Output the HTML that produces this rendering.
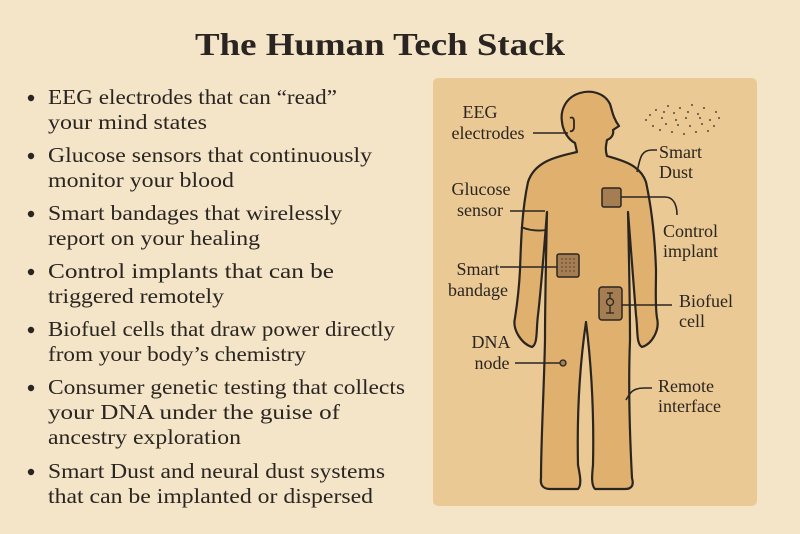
<!DOCTYPE html>
<html><head><meta charset="utf-8"><style>
html,body{margin:0;padding:0;background:#f4e5c9;}
svg{display:block}
text{font-family:"Liberation Serif",serif;fill:#2a2520;}
</style></head><body>
<svg width="800" height="534" viewBox="0 0 800 534" xmlns="http://www.w3.org/2000/svg">
<rect width="800" height="534" fill="#f4e5c9"/>
<text x="380" y="55" text-anchor="middle" font-size="32" font-weight="bold" textLength="370" lengthAdjust="spacingAndGlyphs">The Human Tech Stack</text>
<g font-size="21">
<circle cx="31" cy="98" r="3.2" fill="#2a2520"/>
<text x="48" y="104" textLength="289" lengthAdjust="spacingAndGlyphs">EEG electrodes that can “read”</text>
<text x="48" y="129" textLength="159" lengthAdjust="spacingAndGlyphs">your mind states</text>
<circle cx="31" cy="156" r="3.2" fill="#2a2520"/>
<text x="48" y="162" textLength="324" lengthAdjust="spacingAndGlyphs">Glucose sensors that continuously</text>
<text x="48" y="187" textLength="186" lengthAdjust="spacingAndGlyphs">monitor your blood</text>
<circle cx="31" cy="214" r="3.2" fill="#2a2520"/>
<text x="48" y="220" textLength="294" lengthAdjust="spacingAndGlyphs">Smart bandages that wirelessly</text>
<text x="48" y="245" textLength="212" lengthAdjust="spacingAndGlyphs">report on your healing</text>
<circle cx="31" cy="272" r="3.2" fill="#2a2520"/>
<text x="48" y="278" textLength="286" lengthAdjust="spacingAndGlyphs">Control implants that can be</text>
<text x="48" y="303" textLength="176" lengthAdjust="spacingAndGlyphs">triggered remotely</text>
<circle cx="31" cy="330" r="3.2" fill="#2a2520"/>
<text x="48" y="336" textLength="347" lengthAdjust="spacingAndGlyphs">Biofuel cells that draw power directly</text>
<text x="48" y="361" textLength="258" lengthAdjust="spacingAndGlyphs">from your body’s chemistry</text>
<circle cx="31" cy="388" r="3.2" fill="#2a2520"/>
<text x="48" y="394" textLength="357" lengthAdjust="spacingAndGlyphs">Consumer genetic testing that collects</text>
<text x="48" y="419" textLength="292" lengthAdjust="spacingAndGlyphs">your DNA under the guise of</text>
<text x="48" y="444" textLength="193" lengthAdjust="spacingAndGlyphs">ancestry exploration</text>
<circle cx="31" cy="472" r="3.2" fill="#2a2520"/>
<text x="48" y="478" textLength="337" lengthAdjust="spacingAndGlyphs">Smart Dust and neural dust systems</text>
<text x="48" y="503" textLength="325" lengthAdjust="spacingAndGlyphs">that can be implanted or dispersed</text>
</g>
<rect x="433" y="78" width="324" height="428" rx="5" fill="#ebc994"/>
<path d="M577 152 C560 156 535 160 528 182 C522 210 521 240 520 270 C519 290 517 305 515 318 C512 330 522 344 532 347 C538 344 536 330 538 315 C541 290 544 250 547 212 C546 260 545 300 545 340 C544 390 541 440 541 478 C540 485 543 489 550 489 L578 489 C582 485 580 475 578 465 C577 420 579 370 586 322 C592 370 594 420 593 465 C592 475 591 485 595 489 L625 489 C632 489 634 485 632 478 C630 440 628 390 630 340 C630 300 629 260 628 212 C631 250 634 290 636 315 C638 330 636 344 642 347 C652 344 660 330 657 318 C655 305 656 290 656 270 C655 240 652 210 646 182 C640 164 620 160 607 156 C605 150 606 145 607 140 C612 138 614 134 613 130 L619 126 C613 118 612 110 610 104 C604 92 590 90 580 93 C566 97 560 110 562 122 C563 132 569 140 575 143 Z" fill="#e0b06e" stroke="#2a2520" stroke-width="2.2" stroke-linejoin="round"/>
<path d="M570 118 q4 -2 4 4 l0 6 q-1 4 -4 3" fill="none" stroke="#2a2520" stroke-width="1.8"/>
<path d="M521 227 q12 5 26 3" fill="none" stroke="#2a2520" stroke-width="1.8"/>
<g fill="#2a2520">
<circle cx="650" cy="115" r="0.9"/><circle cx="656" cy="110" r="0.9"/><circle cx="662" cy="118" r="0.9"/><circle cx="668" cy="106" r="0.9"/><circle cx="674" cy="113" r="0.9"/><circle cx="680" cy="108" r="0.9"/><circle cx="686" cy="118" r="0.9"/><circle cx="692" cy="105" r="0.9"/><circle cx="698" cy="114" r="0.9"/><circle cx="704" cy="108" r="0.9"/><circle cx="710" cy="120" r="0.9"/><circle cx="716" cy="112" r="0.9"/><circle cx="653" cy="126" r="0.9"/><circle cx="660" cy="130" r="0.9"/><circle cx="666" cy="124" r="0.9"/><circle cx="672" cy="132" r="0.9"/><circle cx="678" cy="125" r="0.9"/><circle cx="684" cy="134" r="0.9"/><circle cx="690" cy="126" r="0.9"/><circle cx="696" cy="132" r="0.9"/><circle cx="702" cy="124" r="0.9"/><circle cx="708" cy="131" r="0.9"/><circle cx="714" cy="126" r="0.9"/><circle cx="719" cy="118" r="0.9"/><circle cx="664" cy="112" r="0.9"/><circle cx="688" cy="112" r="0.9"/><circle cx="700" cy="118" r="0.9"/><circle cx="676" cy="120" r="0.9"/><circle cx="646" cy="120" r="0.9"/>
</g>
<rect x="602" y="188" width="19" height="19" rx="2" fill="#a57d52" stroke="#2a2520" stroke-width="1.5"/>
<rect x="557" y="254" width="22" height="23" rx="2" fill="#a57d52" stroke="#2a2520" stroke-width="1.5"/>
<g fill="#4a3a28"><circle cx="562" cy="259" r="0.7"/><circle cx="566" cy="259" r="0.7"/><circle cx="570" cy="259" r="0.7"/><circle cx="574" cy="259" r="0.7"/><circle cx="562" cy="263" r="0.7"/><circle cx="566" cy="263" r="0.7"/><circle cx="570" cy="263" r="0.7"/><circle cx="574" cy="263" r="0.7"/><circle cx="562" cy="267" r="0.7"/><circle cx="566" cy="267" r="0.7"/><circle cx="570" cy="267" r="0.7"/><circle cx="574" cy="267" r="0.7"/><circle cx="562" cy="271" r="0.7"/><circle cx="566" cy="271" r="0.7"/><circle cx="570" cy="271" r="0.7"/><circle cx="574" cy="271" r="0.7"/></g>
<rect x="599" y="287" width="23" height="33" rx="3" fill="#a57d52" stroke="#2a2520" stroke-width="1.5"/>
<path d="M607 293 h6 M610 293 v5 M610 306 v7 M606 313 h8" stroke="#2a2520" stroke-width="1.3" fill="none"/>
<circle cx="610" cy="302" r="3.5" fill="none" stroke="#2a2520" stroke-width="1.3"/>
<g fill="none" stroke="#2a2520" stroke-width="1.6">
<path d="M533 133 H568"/>
<path d="M637 172 C640 160 640 150 652 150 H657"/>
<path d="M510 211 H545"/>
<path d="M621 197 H665 C673 197 677 204 677 215"/>
<path d="M500 267 H557"/>
<path d="M622 305 H672"/>
<path d="M515 363 H562"/>
<path d="M626 400 C630 393 632 388 645 388 H652"/>
</g>
<circle cx="563" cy="363" r="3" fill="#a57d52" stroke="#2a2520" stroke-width="1.3"/>
<g font-size="18">
<text x="480" y="118" text-anchor="middle">EEG</text>
<text x="488" y="139" text-anchor="middle">electrodes</text>
<text x="481" y="195" text-anchor="middle">Glucose</text>
<text x="480" y="216" text-anchor="middle">sensor</text>
<text x="659" y="158">Smart</text>
<text x="659" y="178">Dust</text>
<text x="663" y="237">Control</text>
<text x="663" y="257">implant</text>
<text x="478" y="275" text-anchor="middle">Smart</text>
<text x="478" y="296" text-anchor="middle">bandage</text>
<text x="679" y="307">Biofuel</text>
<text x="679" y="327">cell</text>
<text x="491" y="348" text-anchor="middle">DNA</text>
<text x="492" y="369" text-anchor="middle">node</text>
<text x="658" y="392">Remote</text>
<text x="658" y="412">interface</text>
</g>
</svg>
</body></html>
